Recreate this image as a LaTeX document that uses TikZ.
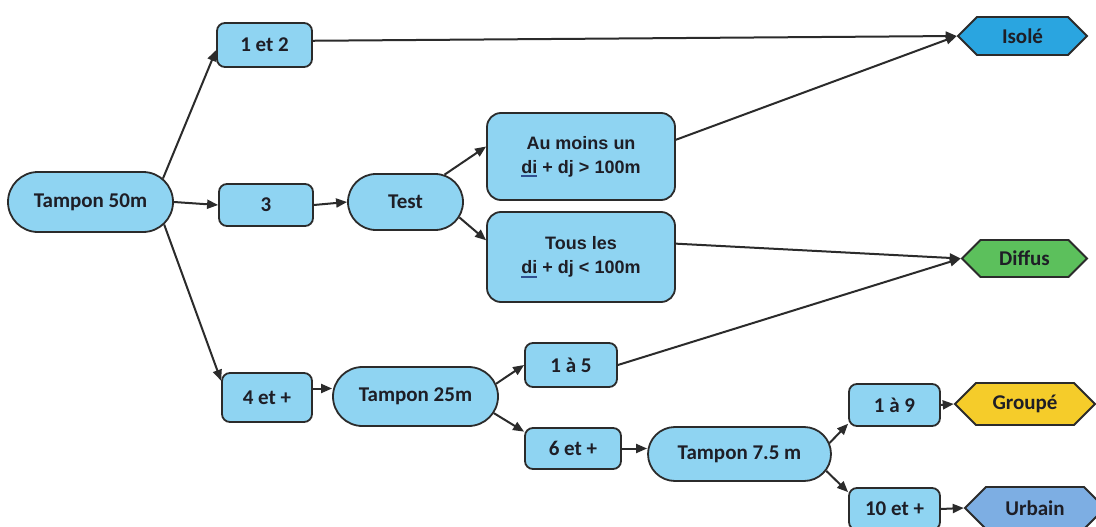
\documentclass[tikz,border=0pt]{standalone}
\usepackage{fontspec}
\setmainfont{Carlito}
\newfontfamily\heavyfont{Liberation Sans}
\usetikzlibrary{arrows.meta,shapes.misc,shapes.symbols}
\definecolor{boxblue}{HTML}{8FD4F2}
\definecolor{isoblue}{HTML}{2AA5E0}
\definecolor{difgreen}{HTML}{5CC05C}
\definecolor{grpyellow}{HTML}{F5CC2A}
\definecolor{urbblue}{HTML}{7DAEE3}
\definecolor{edgegray}{HTML}{2B2B2B}
\definecolor{textdark}{HTML}{1E1E26}
\definecolor{ulblue}{HTML}{2F4F8F}
\newcommand\bluul[1]{\setbox0\hbox{#1}\rlap{\color{ulblue}\rule[-4pt]{\wd0}{1.6pt}}\box0\relax}
\begin{document}
\begin{tikzpicture}[x=1pt,y=-1pt,
  base/.style={draw=edgegray, line width=1.8pt, fill=boxblue, inner sep=0pt,
    font=\bfseries\fontsize{21}{25}\selectfont, text=textdark},
  box/.style={base, rectangle, rounded corners=8pt},
  pill/.style={base, rounded rectangle},
  bigbox/.style={base, rectangle, rounded corners=14pt, align=center,
    font=\heavyfont\bfseries\fontsize{18}{24}\selectfont},
  hexa/.style={base, signal, signal to=east and west},
  conn/.style={draw=edgegray, line width=2pt, -{Triangle[length=11pt,width=9pt]}}
]
\useasboundingbox[fill=white] (0,0) rectangle (1096,527);

% nodes
\node[pill, minimum width=165pt, minimum height=60pt] (t50) at (90.5,202) {Tampon 50m};
\node[box, minimum width=95pt, minimum height=44pt] (n12) at (264.5,45) {1 et 2};
\node[box, minimum width=94pt, minimum height=42pt] (n3) at (266,205) {3};
\node[pill, minimum width=115pt, minimum height=56pt] (test) at (405.5,202) {Test};
\node[bigbox, minimum width=188pt, minimum height=87pt] (am) at (581,156.5)
  {Au moins un\\\bluul{di} + dj > 100m};
\node[bigbox, minimum width=188pt, minimum height=90pt] (tl) at (581,257)
  {Tous les\\\bluul{di} + dj < 100m};
\node[box, minimum width=90pt, minimum height=49pt] (n4) at (267,397.5) {4 et +};
\node[pill, minimum width=165pt, minimum height=59pt] (t25) at (415.5,396.5) {Tampon 25m};
\node[box, minimum width=92pt, minimum height=44pt] (n15) at (571,365) {1 à 5};
\node[box, minimum width=96pt, minimum height=41pt] (n6) at (573,448.5) {6 et +};
\node[pill, minimum width=183pt, minimum height=54pt] (t75) at (739.5,454) {Tampon 7.5 m};
\node[box, minimum width=91pt, minimum height=42pt] (n19) at (894.5,405) {1 à 9};
\node[box, minimum width=91pt, minimum height=42pt] (n10) at (894.5,509) {10 et +};
\node[hexa, fill=isoblue, minimum width=129pt, minimum height=38pt] (iso) at (1022.5,36) {Isolé};
\node[hexa, fill=difgreen, minimum width=125pt, minimum height=37pt] (dif) at (1024.5,258.5) {Diffus};
\node[hexa, fill=grpyellow, minimum width=140pt, minimum height=42pt] (grp) at (1025,404) {Groupé};
\node[hexa, fill=urbblue, minimum width=140pt, minimum height=42pt] (urb) at (1035,508) {Urbain};

% connectors
\draw[conn] (t50.18) -- (n12.186);
\draw[conn] (t50.east) -- (n3.west);
\draw[conn] (t50.-17) -- (n4.160);
\draw[conn] (n3.east) -- (test.west);
\draw[conn] (test.35) -- (am.174);
\draw[conn] (test.-16) -- (tl.170);
\draw[conn] (n12.5) -- (iso.west);
\draw[conn] (am.10) -- (iso.west);
\draw[conn] (tl.8) -- (dif.west);
\draw[conn] (n15.east) -- (dif.west);
\draw[conn] ([yshift=9pt]n4.east) -- ([yshift=9pt]n4.east -| t25.west);
\draw[conn] (t25.9) -- (n15.west);
\draw[conn] (t25.-12) -- (n6.161);
\draw[conn] (n6.east) -- (n6.east -| t75.west);
\draw[conn] (t75.7) -- (n19.202);
\draw[conn] (t75.-11) -- (n10.160);
\draw[conn] (n19.east) -- (grp.west);
\draw[conn] (n10.east) -- (urb.west);
\end{tikzpicture}
\end{document}
